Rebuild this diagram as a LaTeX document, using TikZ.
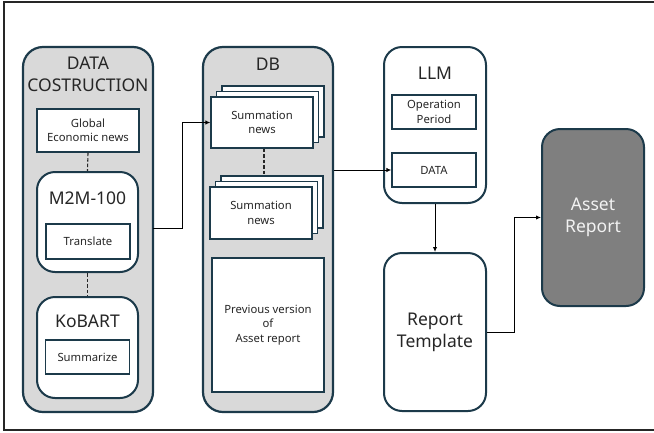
\documentclass[tikz,border=0pt]{standalone}
\usepackage{fontspec}
\setmainfont{Noto Sans}
\usetikzlibrary{arrows.meta}
\definecolor{edge}{HTML}{1C3A4A}
\definecolor{contfill}{HTML}{D9D9D9}
\definecolor{darkbox}{HTML}{7F7F7F}
\definecolor{txt}{HTML}{262626}
\begin{document}
\begin{tikzpicture}[x=1pt,y=-1pt,
  cont/.style={draw=edge, line width=2.2pt, fill=contfill, rounded corners=20pt, inner sep=0pt},
  rbox/.style={draw=edge, line width=2pt, fill=white, rounded corners=18pt, inner sep=0pt},
  sbox/.style={draw=edge, line width=1.3pt, fill=white, inner sep=1pt, align=center, font=\fontsize{11.3}{14.5}\selectfont, text=txt},
  title/.style={font=\fontsize{17.5}{22}\selectfont, text=txt, align=center, inner sep=0pt},
  dashline/.style={draw=txt, line width=1.1pt, dash pattern=on 3.5pt off 2pt},
  arr/.style={draw=black, line width=1pt, -{Latex[length=5pt,width=4.5pt]}}
]
\useasboundingbox (0,0) rectangle (654,432);
\fill[white] (0,0) rectangle (654,432);
\draw[line width=1.2pt, draw=txt] (4,2) rectangle (660,430);

% DATA COSTRUCTION
\node[cont, minimum width=130pt, minimum height=365pt] (dc) at (88,229.5) {};
\node[title] (dct) at (88,74) {DATA\\COSTRUCTION};
\node[sbox, minimum width=102pt, minimum height=43pt] (gen) at (88,130.5) {Global\\Economic news};
\node[rbox, minimum width=101pt, minimum height=100pt] (m2m) at (87.5,222) {};
\node[title] (m2mt) at (87.5,198) {M2M-100};
\node[sbox, minimum width=84pt, minimum height=35pt] (trans) at (88,241.5) {Translate};
\node[rbox, minimum width=101pt, minimum height=101pt] (kob) at (87.5,347.5) {};
\node[title] (kobt) at (87.5,321) {KoBART};
\node[sbox, minimum width=84pt, minimum height=34pt] (summ) at (87.5,357) {Summarize};
\draw[dashline] (gen.south) -- (m2m.north);
\draw[dashline] (m2m.south) -- (kob.north);

% DB
\node[cont, minimum width=130pt, minimum height=365pt] (db) at (268,229.5) {};
\node[title] (dbt) at (268,64) {DB};
\node[sbox, minimum width=102pt, minimum height=51pt] (sn1c) at (273,111.5) {};
\node[sbox, minimum width=102pt, minimum height=51pt] (sn1b) at (267.5,117) {};
\node[sbox, minimum width=102pt, minimum height=51pt] (sn1) at (262,122.5) {Summation\\news};
\node[sbox, minimum width=102pt, minimum height=52pt] (sn2c) at (272,202) {};
\node[sbox, minimum width=102pt, minimum height=52pt] (sn2b) at (266.5,207.5) {};
\node[sbox, minimum width=102pt, minimum height=52pt] (sn2) at (261,213) {Summation\\news};
\node[sbox, minimum width=112pt, minimum height=134pt] (prev) at (268,325) {Previous version\\of\\Asset report};
\draw[dashline] ([xshift=2pt]sn1.south) -- ([xshift=2pt]sn1.south |- sn2c.north);

% LLM
\node[rbox, minimum width=102pt, minimum height=156pt] (llm) at (435,125) {};
\node[title] (llmt) at (435,73) {LLM};
\node[sbox, minimum width=84pt, minimum height=34pt] (op) at (434,112) {Operation\\Period};
\node[sbox, minimum width=84pt, minimum height=34pt] (data) at (434,170) {DATA};

% Report Template
\node[rbox, minimum width=102pt, minimum height=158pt, title] (rt) at (435,332) {Report\\Template};

% Asset Report
\node[rbox, fill=darkbox, minimum width=102pt, minimum height=177pt, title, text=white!95!black] (ar) at (593,217.5) {Asset\\Report};

% connectors
\coordinate (a1) at (153,228);
\coordinate (k1) at (182,228);
\draw[arr] (a1) -- (k1) |- (sn1.west);
\draw[arr] (db.east |- data.west) -- (data.west);
\draw[arr] (llm.south) -- (rt.north);
\coordinate (k2) at (514,332);
\draw[arr] (rt.east) -- (k2) |- (ar.west);
\end{tikzpicture}
\end{document}
